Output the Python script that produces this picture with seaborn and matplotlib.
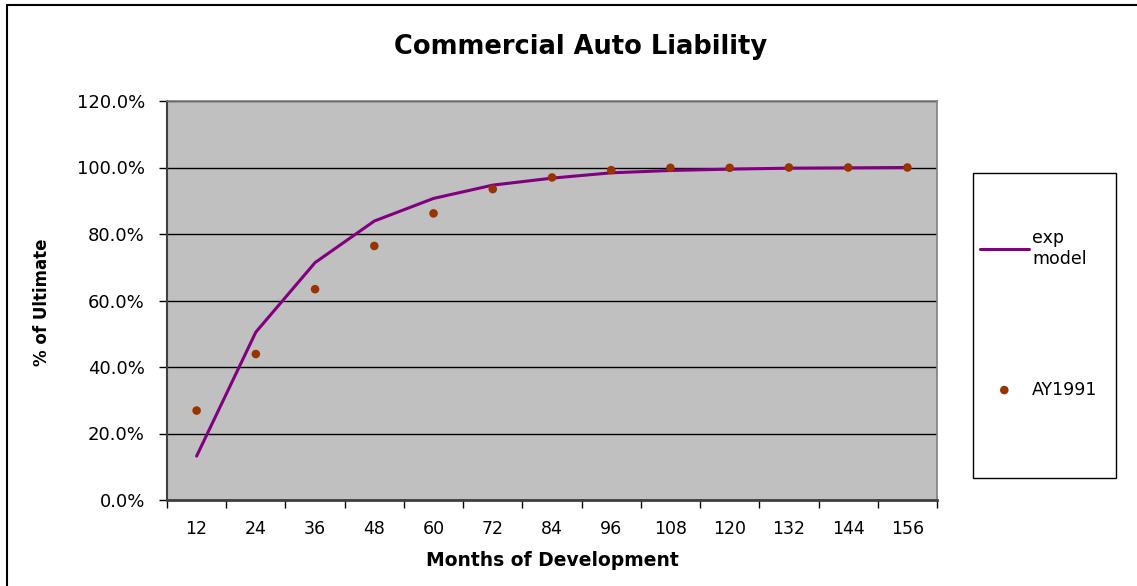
import matplotlib
matplotlib.use("Agg")
import matplotlib.pyplot as plt
import seaborn as sns
import pandas as pd
from matplotlib.ticker import FixedLocator, FuncFormatter, NullFormatter
from matplotlib.lines import Line2D
from matplotlib.patches import Rectangle

# Development ages (months)
months = [12, 24, 36, 48, 60, 72, 84, 96, 108, 120, 132, 144, 156]
# Fitted exponential development pattern
exp_model = [0.132, 0.505, 0.714, 0.839, 0.907, 0.947, 0.968,
             0.984, 0.991, 0.995, 0.998, 0.999, 1.000]
# Observed % of ultimate, accident year 1991
ay1991 = [0.269, 0.439, 0.634, 0.764, 0.862, 0.935, 0.970,
          0.992, 0.999, 0.999, 1.000, 1.000, 1.000]
y_ticks = [0.0, 0.2, 0.4, 0.6, 0.8, 1.0, 1.2]

W, H = 1137, 586

sns.set_style("white")
plt.rcParams["font.family"] = ["DejaVu Sans"]
plt.rcParams["text.color"] = "black"
plt.rcParams["xtick.color"] = "black"
plt.rcParams["ytick.color"] = "black"

fig = plt.figure(figsize=(W / 100, H / 100), dpi=100)
fig.patch.set_facecolor("white")

# plot area in pixel coordinates
left, right, top, bottom = 167, 937, 101, 500
ax = fig.add_axes([left / W, 1 - bottom / H, (right - left) / W, (bottom - top) / H])
ax.set_facecolor("#C0C0C0")

df = pd.DataFrame({"Months": months, "exp": exp_model, "AY1991": ay1991})
sns.lineplot(data=df, x="Months", y="exp", color="#800080", linewidth=2.2,
             ax=ax, label="exp\nmodel", zorder=3)
sns.scatterplot(data=df, x="Months", y="AY1991", color="#993300", s=38,
                edgecolor="none", ax=ax, label="AY1991", zorder=4)

# axes ranges and ticks
ax.set_xlim(6, 162)
ax.set_ylim(0, 1.2)
ax.xaxis.set_major_locator(FixedLocator(months))
ax.xaxis.set_minor_locator(FixedLocator([m - 6 for m in months] + [162]))
ax.xaxis.set_minor_formatter(NullFormatter())
ax.yaxis.set_major_locator(FixedLocator(y_ticks))
ax.yaxis.set_major_formatter(FuncFormatter(lambda v, p: f"{v * 100:.1f}%"))
ax.tick_params(axis="x", which="major", length=0, pad=14.5, labelsize=12.5, labelcolor="black")
ax.tick_params(axis="x", which="minor", length=6, width=1, direction="out", color="black", bottom=True)
ax.tick_params(axis="y", which="major", length=6, width=1, direction="out", color="black",
               pad=10, labelsize=13, labelcolor="black", left=True)

ax.yaxis.grid(True, color="black", linewidth=1)
ax.xaxis.grid(False)
ax.set_axisbelow(True)

for side in ("top", "right"):
    ax.spines[side].set_color("#808080")
    ax.spines[side].set_linewidth(1.2)
ax.spines["left"].set_color("#404040")
ax.spines["left"].set_linewidth(1.5)
ax.spines["bottom"].set_color("#404040")
ax.spines["bottom"].set_linewidth(2)

ax.set_xlabel("")
ax.set_ylabel("")

# titles and axis labels
fig.text(581 / W, 1 - 47 / H, "Commercial Auto Liability", ha="center", va="center",
         fontsize=18.5, fontweight="bold", color="black")
fig.text(552 / W, 1 - 560 / H, "Months of Development", ha="center", va="center",
         fontsize=13.5, fontweight="bold", color="black")
fig.text(42 / W, 1 - 302 / H, "% of Ultimate", ha="center", va="center",
         fontsize=12, fontweight="bold", rotation=90, color="black")

# legend
handles, labels = ax.get_legend_handles_labels()
ax.get_legend().remove()
leg = fig.legend(handles, labels, loc="upper left", bbox_to_anchor=(980 / W, 1 - 229 / H),
                 frameon=False, fontsize=12.5, handlelength=2.8, handletextpad=0.2,
                 labelspacing=6.5, borderpad=0, borderaxespad=0)
for t in leg.get_texts():
    t.set_color("black")
fig.add_artist(Rectangle((973 / W, 1 - 478 / H), 143 / W, 305 / H,
                         transform=fig.transFigure, fill=False,
                         edgecolor="black", linewidth=1))

# chart-area border (top and left edges)
fig.add_artist(Line2D([7 / W, 1], [1 - 5 / H, 1 - 5 / H], transform=fig.transFigure,
                      color="black", linewidth=1.5))
fig.add_artist(Line2D([7 / W, 7 / W], [1 - 5 / H, 0], transform=fig.transFigure,
                      color="black", linewidth=1.5))

fig.savefig("out.png", dpi=100, facecolor="white")
